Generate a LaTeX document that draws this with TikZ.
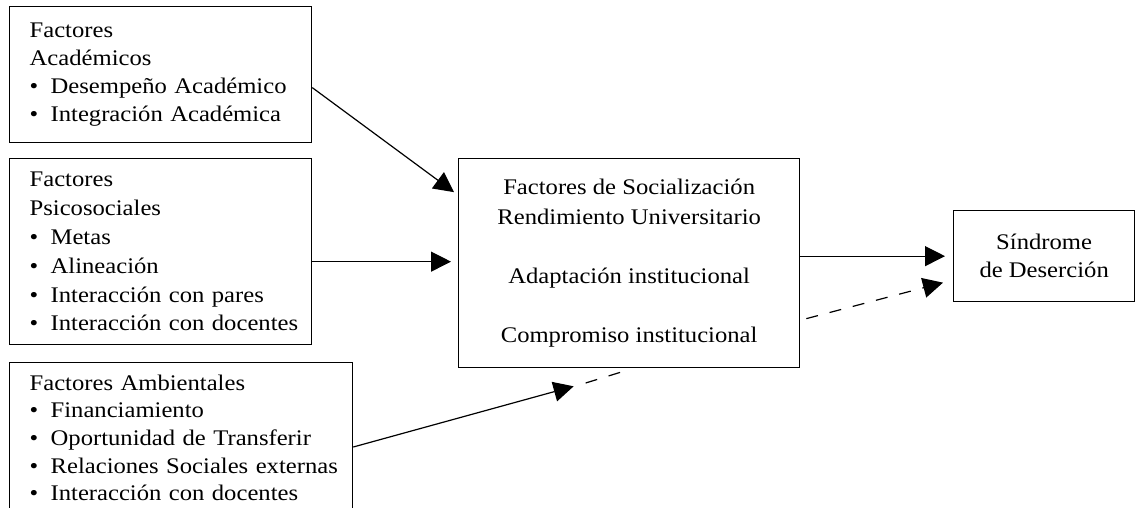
\documentclass[tikz,border=0pt]{standalone}
\usepackage{fontspec}
\setmainfont{Liberation Serif}[FakeStretch=1.105]
\usepackage{tikz}
\usetikzlibrary{arrows.meta}
\usetikzlibrary{positioning}

\newcommand{\punto}{\makebox[21pt][l]{\textbullet}}

\begin{document}
\begin{tikzpicture}[x=1pt, y=-1pt,
  caja/.style={draw, rectangle, line width=1.3pt, anchor=north west},
  izq/.style={caja, align=left, inner xsep=0pt, font=\fontsize{22.3}{27.7}\selectfont,
    execute at begin node={\leftskip=20pt\hyphenpenalty=10000}},
  flecha/.style={-{Triangle[length=20pt,width=20pt]}, line width=1.2pt},
  trazo/.style={line width=1.2pt, dash pattern=on 12pt off 12pt}]

\useasboundingbox (0,0) rectangle (1138,508);

% Factores
\node[izq, text width=302pt, minimum height=136pt] (acad) at (9,6)
  {Factores\\Académicos\\\punto Desempeño Académico\\\punto Integración Académica};
\node[izq, text width=302pt, minimum height=186pt,
  font=\fontsize{22.3}{28.8}\selectfont] (psico) at (9,158)
  {Factores\\Psicosociales\\\punto Metas\\\punto Alineación\\\punto Interacción con pares\\\punto Interacción con docentes};
\node[izq, text width=343pt, inner ysep=12pt] (amb) at (9,362)
  {Factores Ambientales\\\punto Financiamiento\\\punto Oportunidad de Transferir\\\punto Relaciones Sociales externas\\\punto Interacción con docentes};

% Centro y resultado
\node[caja, align=center, minimum width=341pt, minimum height=209pt,
  font=\fontsize{22.3}{29.5}\selectfont] (soc) at (458,158)
  {Factores de Socialización\\Rendimiento Universitario\\[29.5pt]Adaptación institucional\\[29.5pt]Compromiso institucional};
\node[caja, align=center, minimum width=181pt, minimum height=91pt,
  font=\fontsize{22.3}{28}\selectfont] (sind) at (953,210)
  {Síndrome\\de Deserción};

% Flechas
\draw[flecha] ([yshift=-13pt]acad.east) -- ([xshift=-4pt,yshift=71pt]soc.west);
\draw[flecha] ([yshift=-10pt]psico.east) -- ([xshift=-7pt,yshift=1.5pt]soc.west);
\draw[flecha] ([yshift=7pt]soc.east) -- ([xshift=-8pt]sind.west);
\draw[flecha, trazo] ([xshift=6pt,yshift=-55.5pt]soc.east) -- ([xshift=-10pt,yshift=-26.5pt]sind.west);

\coordinate (ambtip) at ([xshift=-55.5pt,yshift=-18pt]soc.south);
\draw[flecha] ([yshift=-85pt]amb.north east) -- (ambtip);
\draw[trazo] ([xshift=12pt,yshift=3.3pt]ambtip) -- ([xshift=-5.5pt,yshift=-3pt]soc.south);

\end{tikzpicture}
\end{document}
